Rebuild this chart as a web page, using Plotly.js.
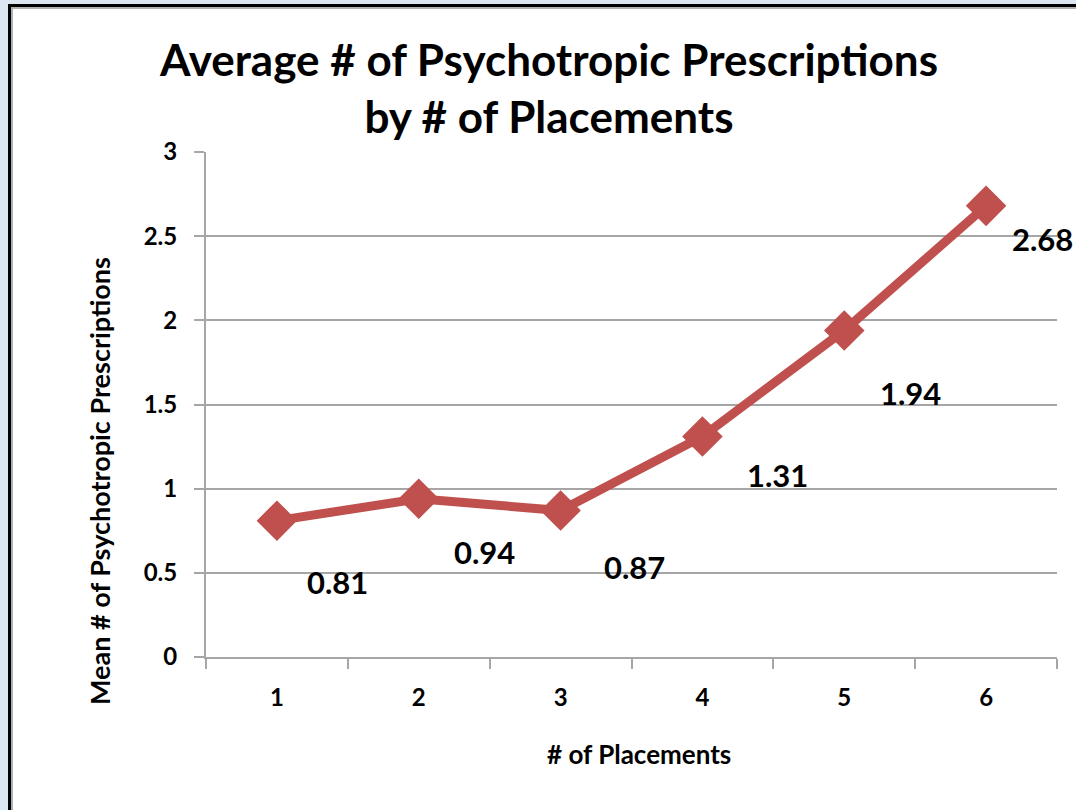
<!DOCTYPE html>
<html>
<head>
<meta charset="utf-8">
<script src="https://cdn.plot.ly/plotly-3.0.1.min.js"></script>
<style>
  html, body { margin: 0; padding: 0; width: 1076px; height: 810px; overflow: hidden; background: #dce6f2; }
  #frame { position: absolute; left: 8px; top: 4px; width: 1200px; height: 900px; border-left: 3px solid #000; border-top: 3px solid #000; background: #fff; }
  #inner { position: absolute; left: 0; top: 0; right: 0; bottom: 0; border-left: 2px solid #b0b0b0; border-top: 2px solid #b0b0b0; }
  #chart { position: absolute; left: 0; top: 0; width: 1076px; height: 810px; }
</style>
</head>
<body>
<div id="frame"><div id="inner"></div></div>
<div id="chart"></div>
<script>
// Data
const placements = ['1', '2', '3', '4', '5', '6'];
const meanPrescriptions = [0.81, 0.94, 0.87, 1.31, 1.94, 2.68];
const valueLabels = ['0.81', '0.94', '0.87', '1.31', '1.94', '2.68'];
const titleText = 'Average # of Psychotropic Prescriptions<br>by # of Placements';
const xTitle = '# of Placements';
const yTitle = 'Mean # of Psychotropic Prescriptions';

// Label offsets (pixels) for data labels, layout only
const labelDx = [61, 66, 74, 75, 66, 56];
const labelDy = [-61, -53, -56, -39, -63, -33];

const FONT = 'Lato, "Open Sans", sans-serif';
const red = '#c0504d';
const grid = '#a6a6a6';

const trace = {
  x: placements,
  y: meanPrescriptions,
  type: 'scatter',
  mode: 'lines+markers',
  line: { color: red, width: 9 },
  marker: { symbol: 'diamond', size: 29, color: red, line: { color: red, width: 2 } },
  hoverinfo: 'x+y',
  cliponaxis: false
};

const annotations = placements.map((p, i) => ({
  x: i, y: meanPrescriptions[i], xref: 'x', yref: 'y',
  text: '<b>' + valueLabels[i] + '</b>', showarrow: false,
  xshift: labelDx[i], yshift: labelDy[i],
  font: { family: FONT, size: 31, color: '#000' }
}));

annotations.push({
  xref: 'paper', yref: 'paper', x: (548 - 206) / 851, y: (657 - 87) / 505,
  xanchor: 'center', yanchor: 'middle',
  text: '<b>' + titleText + '</b>', showarrow: false,
  font: { family: FONT, size: 44, color: '#000' }
});
annotations.push({
  xref: 'paper', yref: 'paper', x: (99 - 206) / 851, y: (657 - 481) / 505,
  xanchor: 'center', yanchor: 'middle',
  text: '<b>' + yTitle + '</b>', textangle: -90, showarrow: false,
  font: { family: FONT, size: 27, color: '#000' }
});
annotations.push({
  xref: 'paper', yref: 'paper', x: (639 - 206) / 851, y: (657 - 754) / 505,
  xanchor: 'center', yanchor: 'middle',
  text: '<b>' + xTitle + '</b>', showarrow: false,
  font: { family: FONT, size: 26, color: '#000' }
});

const layout = {
  width: 1076, height: 810,
  paper_bgcolor: 'rgba(0,0,0,0)',
  plot_bgcolor: 'rgba(0,0,0,0)',
  margin: { l: 206, r: 19, t: 152, b: 153 },
  showlegend: false,
  xaxis: {
    type: 'category',
    tickson: 'boundaries',
    ticks: 'outside', ticklen: 10, tickwidth: 2, tickcolor: grid,
    showline: true, linecolor: grid, linewidth: 2,
    showgrid: false, zeroline: false,
    tickfont: { family: FONT, size: 24, color: '#000', weight: 'bold' },
    ticklabelstandoff: 18,
    range: [-0.5, 5.5]
  },
  yaxis: {
    range: [0, 3], dtick: 0.5, tick0: 0,
    ticks: 'outside', ticklen: 10, tickwidth: 2, tickcolor: grid,
    showline: true, linecolor: grid, linewidth: 2,
    showgrid: true, gridcolor: grid, gridwidth: 2,
    zeroline: false,
    tickfont: { family: FONT, size: 24, color: '#000', weight: 'bold' },
    ticklabelstandoff: 12
  },
  annotations: annotations
};

Plotly.newPlot('chart', [trace], layout, { displayModeBar: false, staticPlot: true });
</script>
</body>
</html>
